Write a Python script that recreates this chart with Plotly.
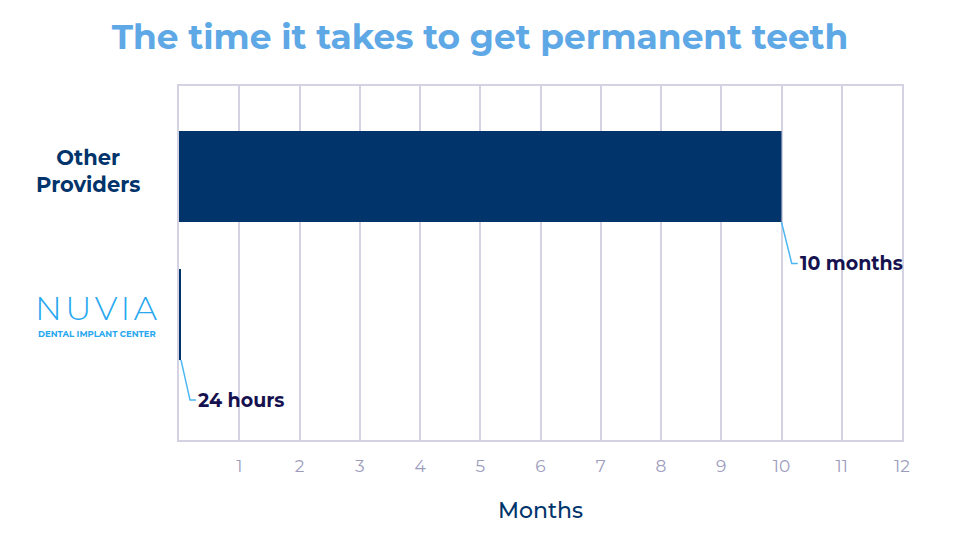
import plotly.graph_objects as go

# Data
providers = ["NUVIA", "Other Providers"]
months = [1 / 30, 10]          # 24 hours ~ one day, 10 months
value_labels = ["24 hours", "10 months"]
tick_values = list(range(1, 13))
tick_labels = [str(v) for v in tick_values]

NAVY = "#00346b"
LABEL = "#16124f"
LEADER = "#4bb6f2"
GRID = "#d4d3e3"
TICK = "#9d9cbd"
TITLE = "#5ea8e6"
LOGO = "#28a8f0"

FONT = "Montserrat, 'Open Sans', Lato, sans-serif"

y_pos = [0, 1]  # numeric position of each provider row
bar_width = 0.66

fig = go.Figure()

fig.add_trace(go.Bar(
    x=months,
    y=y_pos,
    orientation="h",
    width=bar_width,
    marker=dict(color=NAVY, line=dict(width=0)),
    hoverinfo="skip",
    showlegend=False,
))

# Value labels with bent leader lines starting at each bar's lower-right corner
label_drop = [0.29, 0.30]
leader_run = [0.15, 0.17]
for v, yp, txt, drop, run in zip(months, y_pos, value_labels, label_drop, leader_run):
    y0 = yp - bar_width / 2
    y1 = y0 - drop
    fig.add_trace(go.Scatter(
        x=[v, v + run, v + run + 0.1],
        y=[y0, y1, y1],
        mode="lines",
        line=dict(color=LEADER, width=1.5),
        hoverinfo="skip",
        showlegend=False,
    ))
    fig.add_annotation(
        x=v + run + 0.1, y=y1, xref="x", yref="y",
        text=f"<b>{txt}</b>", showarrow=False,
        xanchor="left", yanchor="middle", xshift=0,
        font=dict(family=FONT, size=19, color=LABEL),
    )

# Row labels
fig.add_annotation(
    x=-0.126, y=1.04, xref="paper", yref="y",
    text="<b>Other<br>Providers</b>", showarrow=False,
    xanchor="center", yanchor="middle", align="center",
    font=dict(family=FONT, size=21, color=NAVY),
)
fig.add_annotation(
    x=-0.114, y=-0.1145, xref="paper", yref="y",
    text="N\u200aU\u200aV\u200aI\u200aA", showarrow=False,
    xanchor="center", yanchor="bottom",
    font=dict(family=FONT, size=33, color=LOGO, weight=300),
)
fig.add_annotation(
    x=-0.114, y=-0.0906, xref="paper", yref="y",
    text="<b>DENTAL IMPLANT CENTER</b>", showarrow=False,
    xanchor="center", yanchor="top",
    font=dict(family=FONT, size=8.5, color=LOGO),
)

# Axis title
fig.add_annotation(
    x=0.5, y=-0.198, xref="paper", yref="paper",
    text="Months", showarrow=False,
    xanchor="center", yanchor="middle",
    font=dict(family=FONT, size=22, color=NAVY, weight=500),
)

fig.update_layout(
    width=960, height=540,
    margin=dict(l=179, r=58, t=86, b=100),
    paper_bgcolor="white",
    plot_bgcolor="white",
    title=dict(
        text="<b>The time it takes to get permanent teeth</b>",
        x=0.5, xanchor="center", y=0.932, yanchor="middle",
        font=dict(family=FONT, size=34.4, color=TITLE),
    ),
    xaxis=dict(
        range=[0, 12],
        tickvals=tick_values, ticktext=tick_labels,
        showgrid=True, gridcolor=GRID, gridwidth=1.5,
        showline=True, linecolor=GRID, linewidth=1.5, mirror=True,
        zeroline=False,
        ticks="", ticklabelstandoff=10,
        tickfont=dict(family=FONT, size=17, color=TICK),
    ),
    yaxis=dict(
        range=[-0.909, 1.656],
        showticklabels=False, showgrid=False, zeroline=False,
        showline=True, linecolor=GRID, linewidth=1.5, mirror=True,
    ),
)

fig.write_html("out.html")
